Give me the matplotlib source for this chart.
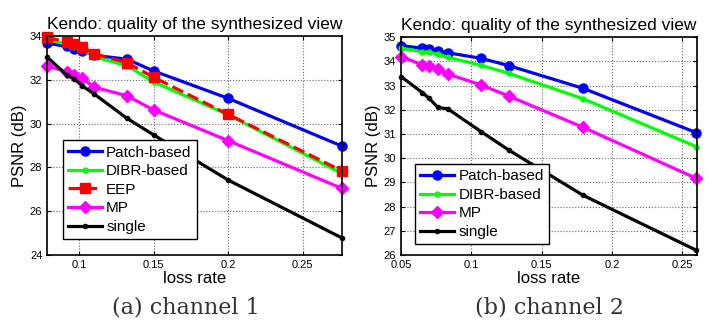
import matplotlib
matplotlib.use("Agg")
import matplotlib.pyplot as plt

plt.rcParams['font.family'] = ['Liberation Sans', 'DejaVu Sans']

# channel 1 data
loss1 = [0.0785, 0.0915, 0.0965, 0.102, 0.110, 0.132, 0.150, 0.200, 0.276]
patch1 = [33.67, 33.52, 33.42, 33.32, 33.12, 32.94, 32.40, 31.15, 28.98]
dibr1 = [33.85, 33.62, 33.50, 33.40, 33.05, 32.64, 31.90, 30.40, 27.73]
eep1 = [33.94, 33.72, 33.62, 33.50, 33.18, 32.78, 32.11, 30.42, 27.85]
mp1 = [32.63, 32.37, 32.22, 32.07, 31.66, 31.27, 30.62, 29.22, 27.05]
single1 = [33.03, 32.22, 32.04, 31.72, 31.35, 30.24, 29.48, 27.42, 24.79]

# channel 2 data
loss2 = [0.0502, 0.0652, 0.070, 0.0762, 0.0833, 0.107, 0.1266, 0.1795, 0.260]
patch2 = [34.65, 34.55, 34.50, 34.45, 34.36, 34.13, 33.83, 32.89, 31.06]
dibr2 = [34.55, 34.40, 34.38, 34.30, 34.17, 33.84, 33.51, 32.46, 30.48]
mp2 = [34.20, 33.86, 33.83, 33.69, 33.48, 33.03, 32.57, 31.28, 29.17]
single2 = [33.37, 32.71, 32.48, 32.10, 32.04, 31.10, 30.34, 28.47, 26.20]

title = "Kendo: quality of the synthesized view"

fig = plt.figure(figsize=(7.09, 3.27), dpi=100)
ax1 = fig.add_axes([0.0667, 0.220, 0.415, 0.670])
ax2 = fig.add_axes([0.5656, 0.220, 0.417, 0.666])

lw = 2.3
kw = dict(lw=lw, clip_on=False)
ax1.plot(loss1, patch1, '-o', color='blue', ms=6.5, label='Patch-based', **kw)
ax1.plot(loss1, dibr1, '-', marker='.', color='#00ff00', ms=7, label='DIBR-based', **kw)
ax1.plot(loss1, eep1, '--s', color='red', ms=6.5, label='EEP', **kw)
ax1.plot(loss1, mp1, '-D', color='magenta', ms=6.5, label='MP', **kw)
ax1.plot(loss1, single1, '-', marker='.', color='black', ms=6, label='single', **kw)

ax2.plot(loss2, patch2, '-o', color='blue', ms=6.5, label='Patch-based', **kw)
ax2.plot(loss2, dibr2, '-', marker='.', color='#00ff00', ms=7, label='DIBR-based', **kw)
ax2.plot(loss2, mp2, '-D', color='magenta', ms=6.5, label='MP', **kw)
ax2.plot(loss2, single2, '-', marker='.', color='black', ms=6, label='single', **kw)

ax1.set_xlim(0.0785, 0.276)
ax1.set_ylim(24, 34)
ax1.set_xticks([0.1, 0.15, 0.2, 0.25])
ax1.set_xticklabels(['0.1', '0.15', '0.2', '0.25'])
ax1.set_yticks([24, 26, 28, 30, 32, 34])

ax2.set_xlim(0.05, 0.2603)
ax2.set_ylim(26, 35)
ax2.set_xticks([0.05, 0.1, 0.15, 0.2, 0.25])
ax2.set_xticklabels(['0.05', '0.1', '0.15', '0.2', '0.25'])
ax2.set_yticks(range(26, 36))

legs = [(ax1, (0.052, 0.072)), (ax2, (0.047, 0.049))]
for ax, anchor in legs:
    ax.grid(True, linestyle=':', color='#666666', lw=0.8)
    ax.tick_params(direction='in', labelsize=8, length=3, top=True, right=True)
    ax.set_title(title, fontsize=12.5, pad=5)
    ax.set_xlabel('loss rate', fontsize=12, labelpad=1)
    ax.set_ylabel('PSNR (dB)', fontsize=12, labelpad=2)
    for s in ax.spines.values():
        s.set_linewidth(1.2)
    ax.legend(loc='lower left', bbox_to_anchor=anchor, fontsize=11,
              fancybox=False, edgecolor='black', framealpha=1,
              borderaxespad=0, handlelength=2.2, handletextpad=0.3,
              labelspacing=0.3, borderpad=0.35)

fig.text(0.262, 0.04, '(a) channel 1', ha='center', fontsize=16,
         family='DejaVu Serif', color='#333333')
fig.text(0.775, 0.04, '(b) channel 2', ha='center', fontsize=16,
         family='DejaVu Serif', color='#333333')

fig.savefig('out.png', dpi=100)
